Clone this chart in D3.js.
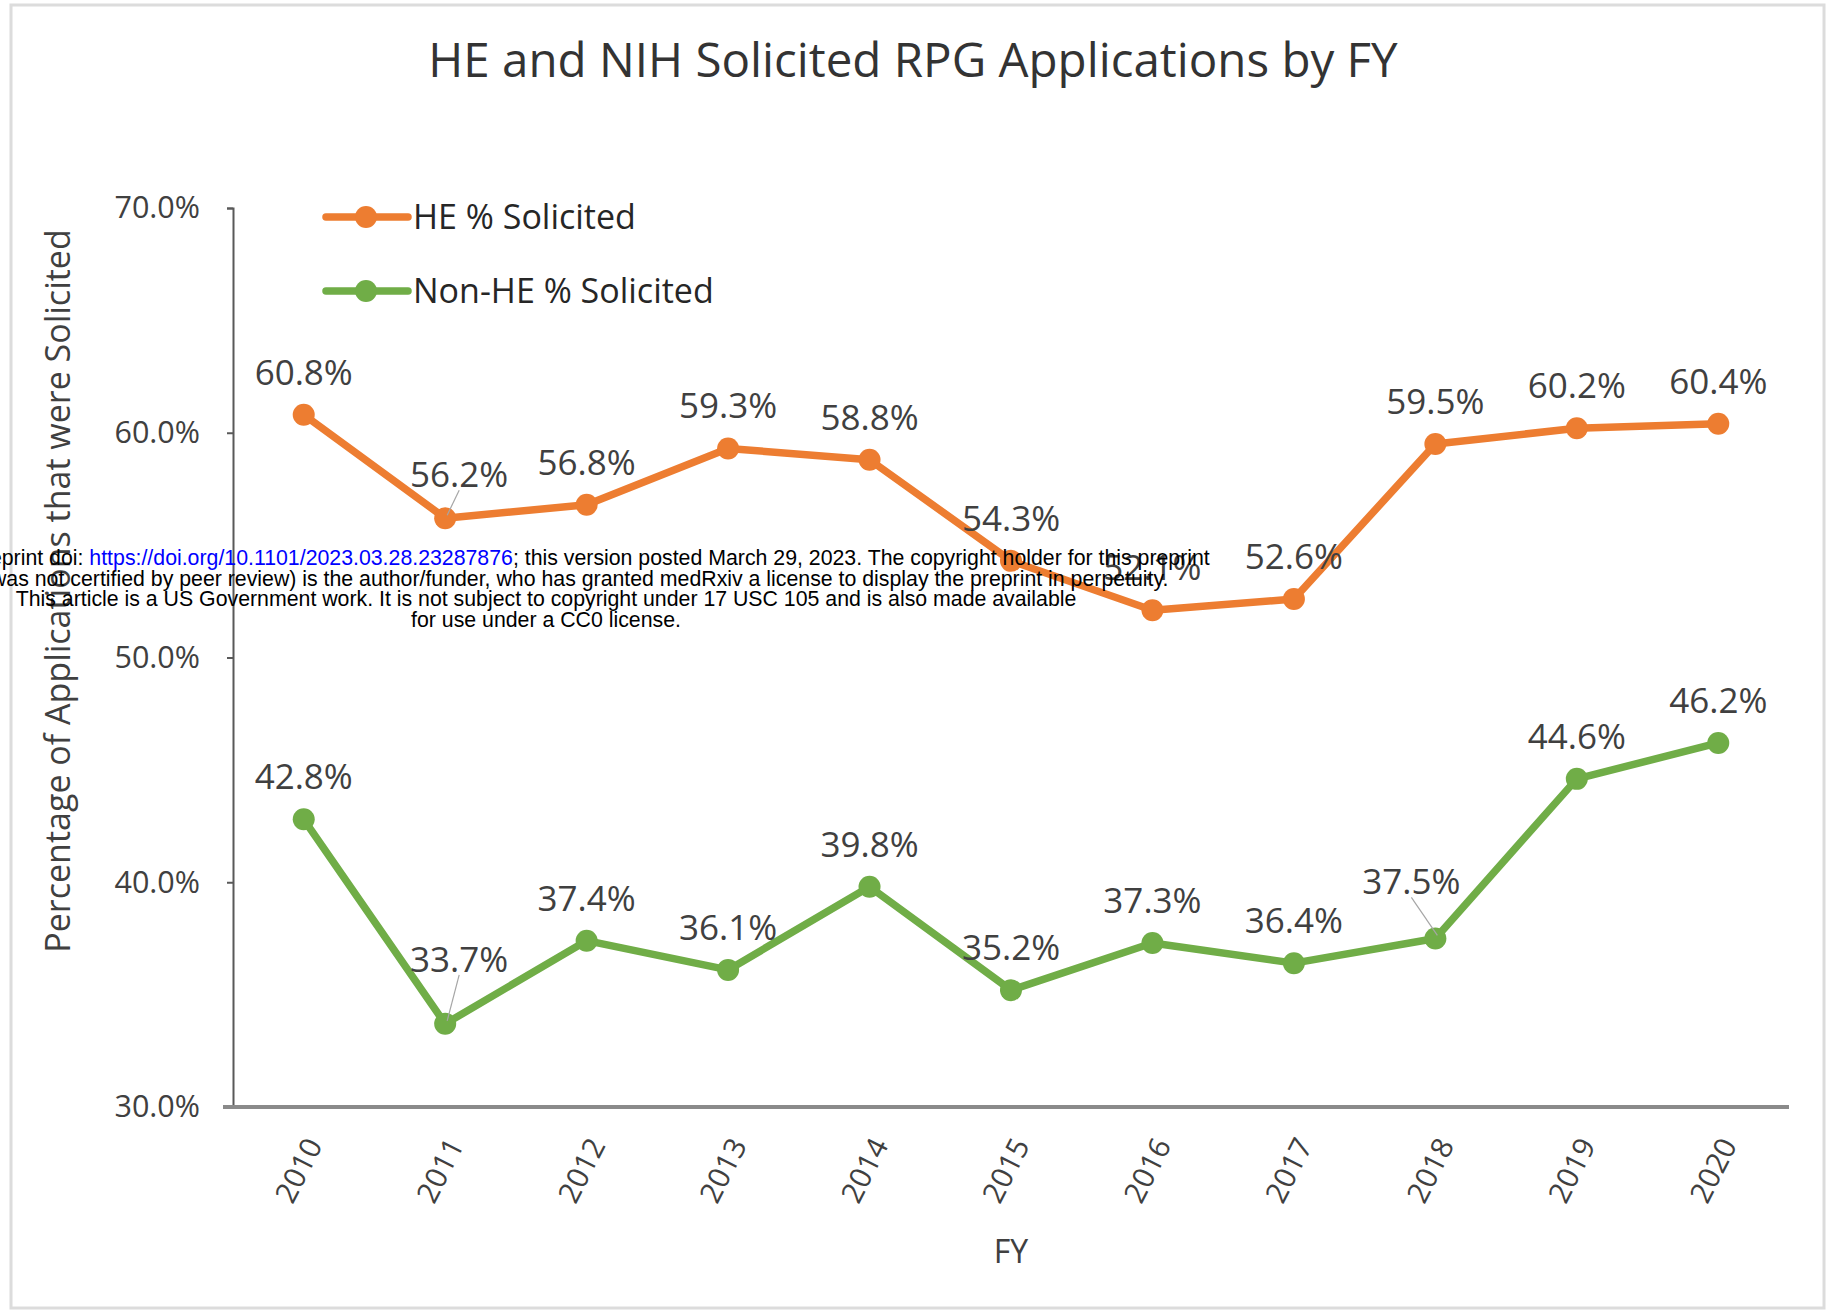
<!DOCTYPE html>
<html>
<head>
<meta charset="utf-8">
<script src="https://cdn.jsdelivr.net/npm/d3@7"></script>
<style>
    body { margin: 0; background: #fff; }
    svg { display: block; }
</style>
</head>
<body>
<div id="chart"></div>
<script>
// chart values
var years = ['2010', '2011', '2012', '2013', '2014', '2015', '2016', '2017', '2018', '2019', '2020'];
var heSolicited = [60.8, 56.2, 56.8, 59.3, 58.8, 54.3, 52.1, 52.6, 59.5, 60.2, 60.4];
var nonHeSolicited = [42.8, 33.7, 37.4, 36.1, 39.8, 35.2, 37.3, 36.4, 37.5, 44.6, 46.2];
var seriesNames = ['HE % Solicited', 'Non-HE % Solicited'];
var yTicks = [30, 40, 50, 60, 70];
var title = 'HE and NIH Solicited RPG Applications by FY';
var xTitle = 'FY';
var yTitle = 'Percentage of Applications that were Solicited';

var noticeLines = [
    ['medRxiv preprint doi: ', 'https://doi.org/10.1101/2023.03.28.23287876', '; this version posted March 29, 2023. The copyright holder for this preprint'],
    ['(which was not certified by peer review) is the author/funder, who has granted medRxiv a license to display the preprint in perpetuity.'],
    ['This article is a US Government work. It is not subject to copyright under 17 USC 105 and is also made available'],
    ['for use under a CC0 license.']
];

var width = 1826,
    height = 1310,
    plotLeft = 233,
    plotRight = 1789,
    plotTop = 208,
    plotBottom = 1107;

var font = '"Open Sans", "Noto Sans", sans-serif';
var textColor = '#404040';
var colors = ['#ED7D31', '#70AD47'];

var series = [
    { name: seriesNames[0], values: heSolicited, color: colors[0] },
    { name: seriesNames[1], values: nonHeSolicited, color: colors[1] }
];

// labels that Excel moved away from the point (dx, baseline dy) + leader line
var labelMoves = {
    '0-1': { dx: 14, dy: -31, leader: true },
    '1-1': { dx: 14, dy: -52, leader: true },
    '1-8': { dx: -24, dy: -44, leader: true }
};

var svg = d3.select('#chart').append('svg')
    .attr('width', width)
    .attr('height', height);

// frame
svg.append('rect')
    .attr('x', 11)
    .attr('y', 5)
    .attr('width', width - 13)
    .attr('height', height - 7)
    .attr('fill', '#fff')
    .attr('stroke', '#dcdcdc')
    .attr('stroke-width', 3);

var x = d3.scalePoint()
    .domain(years)
    .range([plotLeft, plotRight])
    .padding(0.5);

var y = d3.scaleLinear()
    .domain([30, 70])
    .range([plotBottom, plotTop]);

// Title
svg.append('text')
    .attr('x', 913)
    .attr('y', 77)
    .attr('text-anchor', 'middle')
    .attr('font-family', font)
    .attr('font-size', 47.5)
    .attr('fill', '#333')
    .text(title);

// Y axis
var yAxis = svg.append('g')
    .attr('transform', 'translate(' + plotLeft + ',0)')
    .call(d3.axisLeft(y)
        .tickValues(yTicks)
        .tickSize(6)
        .tickPadding(27)
        .tickFormat(function (d) { return d.toFixed(1) + '%'; }));
yAxis.select('.domain')
    .attr('stroke', '#595959')
    .attr('stroke-width', 2);
yAxis.selectAll('.tick line')
    .attr('stroke', '#595959')
    .attr('stroke-width', 2);
yAxis.selectAll('.tick text')
    .attr('font-family', font)
    .attr('font-size', 30.5)
    .attr('fill', textColor);

// X axis
var xAxis = svg.append('g')
    .attr('transform', 'translate(0,' + plotBottom + ')')
    .call(d3.axisBottom(x).tickSize(0).tickPadding(0));
xAxis.select('.domain').remove();
xAxis.append('line')
    .attr('x1', plotLeft - 10)
    .attr('x2', plotRight)
    .attr('stroke', '#8a8a8a')
    .attr('stroke-width', 4);
xAxis.selectAll('.tick text')
    .attr('font-family', font)
    .attr('font-size', 29.5)
    .attr('fill', textColor)
    .attr('text-anchor', 'end')
    .attr('dy', 0)
    .attr('y', 0)
    .attr('transform', 'translate(19,38) rotate(-63)');

// axis titles
svg.append('text')
    .attr('x', 1011)
    .attr('y', 1263)
    .attr('text-anchor', 'middle')
    .attr('font-family', font)
    .attr('font-size', 32)
    .attr('fill', textColor)
    .text(xTitle);

svg.append('text')
    .attr('transform', 'translate(70,591) rotate(-90)')
    .attr('text-anchor', 'middle')
    .attr('font-family', font)
    .attr('font-size', 34)
    .attr('fill', textColor)
    .text(yTitle);

// lines + markers
var line = d3.line()
    .x(function (d, i) { return x(years[i]); })
    .y(function (d) { return y(d); });

var groups = svg.selectAll('g.series')
    .data(series)
    .enter()
    .append('g')
    .attr('class', 'series');

groups.append('path')
    .attr('d', function (s) { return line(s.values); })
    .attr('fill', 'none')
    .attr('stroke', function (s) { return s.color; })
    .attr('stroke-width', 7.5)
    .attr('stroke-linejoin', 'round');

groups.selectAll('circle')
    .data(function (s) { return s.values.map(function (v) { return { v: v, color: s.color }; }); })
    .enter()
    .append('circle')
    .attr('cx', function (d, i) { return x(years[i]); })
    .attr('cy', function (d) { return y(d.v); })
    .attr('r', 11)
    .attr('fill', function (d) { return d.color; });

// data labels
series.forEach(function (s, si) {
    s.values.forEach(function (v, i) {
        var px = x(years[i]),
            py = y(v),
            mv = labelMoves[si + '-' + i] || { dx: 0, dy: -30 };
        if (mv.leader) {
            svg.append('line')
                .attr('x1', px + mv.dx)
                .attr('y1', py + mv.dy + 3)
                .attr('x2', px + 2)
                .attr('y2', py - 3)
                .attr('stroke', '#a6a6a6')
                .attr('stroke-width', 1.2);
        }
        svg.append('text')
            .attr('x', px + mv.dx)
            .attr('y', py + mv.dy)
            .attr('text-anchor', 'middle')
            .attr('font-family', font)
            .attr('font-size', 35)
            .attr('fill', textColor)
            .text(v.toFixed(1) + '%');
    });
});

// Legend
var legend = svg.selectAll('g.legend')
    .data(series)
    .enter()
    .append('g')
    .attr('class', 'legend')
    .attr('transform', function (d, i) { return 'translate(326,' + (217 + i * 74) + ')'; });

legend.append('line')
    .attr('x1', 0)
    .attr('x2', 82)
    .attr('stroke', function (d) { return d.color; })
    .attr('stroke-width', 7.5)
    .attr('stroke-linecap', 'round');
legend.append('circle')
    .attr('cx', 40)
    .attr('r', 11)
    .attr('fill', function (d) { return d.color; });
legend.append('text')
    .attr('x', 87)
    .attr('y', 12)
    .attr('font-family', font)
    .attr('font-size', 34)
    .attr('fill', '#262626')
    .text(function (d) { return d.name; });

// medRxiv notice printed over the figure
var notice = svg.append('g')
    .attr('font-family', '"Liberation Sans", Arial, sans-serif')
    .attr('font-size', 21.3)
    .attr('fill', '#000')
    .attr('text-anchor', 'middle');

notice.selectAll('text')
    .data(noticeLines)
    .enter()
    .append('text')
    .attr('x', 546)
    .attr('y', function (d, i) { return 565 + i * 20.5; })
    .each(function (parts) {
        var t = d3.select(this);
        parts.forEach(function (p, k) {
            t.append('tspan')
                .attr('fill', parts.length > 1 && k === 1 ? '#0000FF' : '#000')
                .text(p);
        });
    });
</script>
</body>
</html>
